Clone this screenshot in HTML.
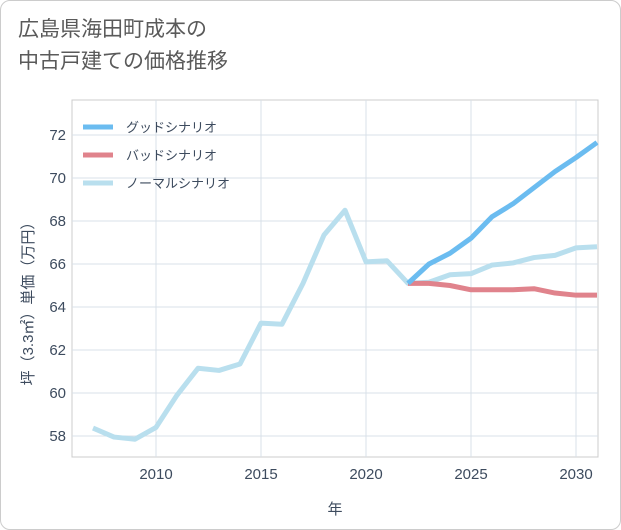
<!DOCTYPE html>
<html><head><meta charset="utf-8"><style>
body{margin:0;background:#fff;font-family:"Liberation Sans","Noto Sans CJK JP",sans-serif;}
#card{position:absolute;left:0;top:0;width:619px;height:528px;border:1px solid #ccc;border-radius:10px;background:#fff;}
#title{position:absolute;left:18px;top:14px;font-size:21px;line-height:32px;color:#5a5a5a;}
</style></head><body>
<div id="card"></div>
<div id="title">広島県海田町成本の<br>中古戸建ての価格推移</div>
<svg id="chart" width="621" height="530" style="position:absolute;left:0;top:0"></svg>
<script>
const years=[2007,2008,2009,2010,2011,2012,2013,2014,2015,2016,2017,2018,2019,2020,2021,2022,2023,2024,2025,2026,2027,2028,2029,2030,2031];
const normalVals=[58.37,57.95,57.85,58.4,59.9,61.15,61.05,61.35,63.25,63.2,65.1,67.35,68.5,66.1,66.15,65.1,65.15,65.5,65.55,65.95,66.05,66.3,66.4,66.75,66.8];
const futureYears=[2022,2023,2024,2025,2026,2027,2028,2029,2030,2031];
const goodVals=[65.1,66.0,66.5,67.2,68.2,68.8,69.55,70.3,70.95,71.65];
const badVals=[65.1,65.1,65.0,64.8,64.8,64.8,64.85,64.65,64.55,64.55];
const xTicks=[2010,2015,2020,2025,2030];
const yTicks=[58,60,62,64,66,68,70,72];
const legendLabels=["グッドシナリオ","バッドシナリオ","ノーマルシナリオ"];
const legendColors=["#6bbcf0","#e0838c","#b9dfee"];
const NS="http://www.w3.org/2000/svg",svg=document.getElementById('chart');
const L=72,R=598,T=100,B=457;
const TXT='#3d4b5e';
const x=v=>156+(v-2010)*21;
const y=v=>436-(v-58)*21.5;
function mk(t,a){const e=document.createElementNS(NS,t);for(const k in a)e.setAttribute(k,a[k]);svg.appendChild(e);return e;}
let e=mk('rect',{x:L,y:T,width:R-L,height:B-T,fill:'#fff',stroke:'#ccc'});


xTicks.forEach(t=>{let g=mk('line',{x1:x(t),x2:x(t),y1:T,y2:B,stroke:'#d8e0e8'});


let l=mk('text',{x:x(t),y:479,'text-anchor':'middle','font-size':15,fill:TXT});l.textContent=t;

});
yTicks.forEach(t=>{let g=mk('line',{x1:L,x2:R,y1:y(t),y2:y(t),stroke:'#d8e0e8'});


let l=mk('text',{x:66,y:y(t)+5,'text-anchor':'end','font-size':15,fill:TXT});l.textContent=t;

});
let xt=mk('text',{x:335,y:514,'text-anchor':'middle','font-size':15,fill:TXT});xt.textContent='年';


let yt=mk('text',{x:0,y:0,'text-anchor':'middle','font-size':15,fill:TXT,transform:'translate(33,300) rotate(-90)'});yt.textContent='坪（3.3㎡）単価（万円）';


function line(xs,vs,c,name){let p=mk('polyline',{points:xs.map((t,i)=>x(t)+','+y(vs[i])).join(' '),fill:'none',stroke:c,'stroke-width':5,'stroke-linejoin':'round'});

}
line(years,normalVals,legendColors[2],'normal-series');
line(futureYears,badVals,legendColors[1],'bad-series');
line(futureYears,goodVals,legendColors[0],'good-series');
legendLabels.forEach((s,i)=>{const yy=127+i*28;
let m=mk('line',{x1:83,x2:113,y1:yy,y2:yy,stroke:legendColors[i],'stroke-width':5});


let t=mk('text',{x:126,y:yy+5,'font-size':13,fill:TXT});t.textContent=s;

});
</script>
</body></html>
